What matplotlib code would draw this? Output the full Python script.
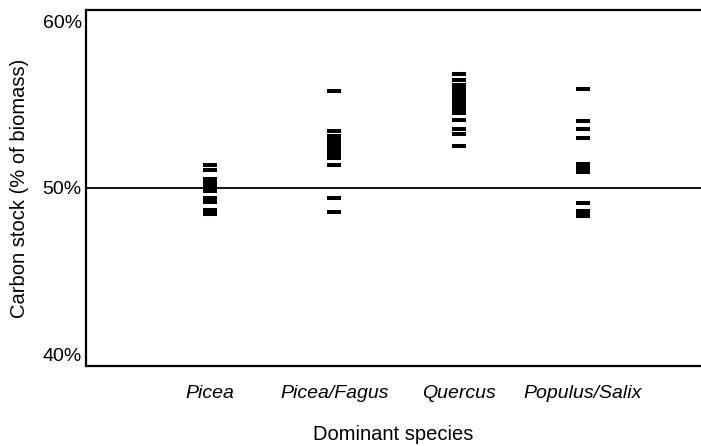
import matplotlib
matplotlib.use("Agg")
import matplotlib.pyplot as plt

plt.rcParams["font.family"] = ["Liberation Sans", "DejaVu Sans"]

# categories and carbon stock values (% of biomass)
species = ["Picea", "Picea/Fagus", "Quercus", "Populus/Salix"]
picea = [51.40, 51.10, 50.56, 50.32, 50.08, 49.84, 49.38, 49.17, 48.67, 48.46]
picea_fagus = [55.86, 53.43, 53.13, 52.9, 52.65, 52.4, 52.15, 51.95, 51.8,
               51.39, 49.40, 48.55]
quercus = [56.87, 56.5, 56.2, 55.96, 55.72, 55.48, 55.24, 55.0, 54.76, 54.52,
           54.1, 53.55, 53.25, 52.53]
populus_salix = [55.96, 54.05, 53.57, 52.99, 51.42, 51.18, 50.96, 49.07,
                 48.62, 48.4, 48.3]
groups = [picea, picea_fagus, quercus, populus_salix]

yticks = [40, 50, 60]
ytick_labels = ["40%", "50%", "60%"]

fig = plt.figure(figsize=(7.01, 4.46), dpi=100)
ax = fig.add_axes([86 / 701, 1 - 366 / 446, 1 - 86 / 701, 356 / 446])

ax.axhline(50, color="black", lw=1.3, zorder=1)

for i, vals in enumerate(groups):
    ax.scatter([i + 1] * len(vals), vals, marker="_", s=10.5 ** 2,
               linewidths=2.9, color="black", zorder=3)

ax.set_xlim(0, 4.95)
ax.set_ylim(39.28, 60.72)
ax.set_xticks(range(1, len(species) + 1))
ax.set_xticklabels(species, fontstyle="italic", fontsize=14)
ax.set_yticks(yticks)
ax.set_yticklabels(ytick_labels, fontsize=14)
ax.tick_params(axis="both", length=0)
ax.tick_params(axis="x", pad=14)
ax.tick_params(axis="y", pad=3)

ax.set_xlabel("Dominant species", fontsize=14.5, labelpad=16)
ax.set_ylabel("Carbon stock (% of biomass)", fontsize=14.5, labelpad=10)

for side in ["left", "top", "bottom"]:
    ax.spines[side].set_linewidth(1.6)
    ax.spines[side].set_color("black")
ax.spines["right"].set_visible(False)

fig.savefig("out.png", dpi=100)
